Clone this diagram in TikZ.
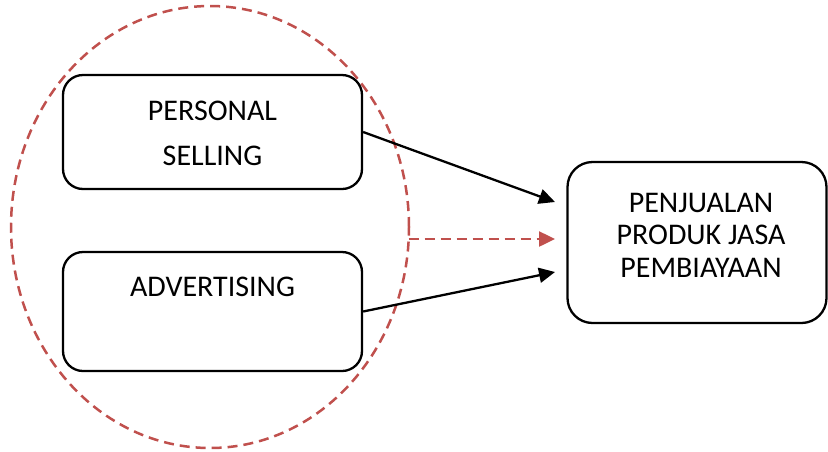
\documentclass[tikz,border=0pt]{standalone}
\usepackage{fontspec}
\setmainfont{Carlito}
\usetikzlibrary{arrows.meta,calc,shapes.geometric}
\definecolor{dred}{RGB}{192,80,77}
\begin{document}
\begin{tikzpicture}[x=1pt,y=-1pt,
  box/.style={draw=black,line width=2.3pt,rounded corners=20pt,inner sep=0pt},
  txt/.style={inner sep=0pt,align=center,font=\fontsize{30}{45}\selectfont},
  txtb/.style={inner sep=0pt,align=center,font=\fontsize{30}{32.5}\selectfont},
  arr/.style={line width=2.3pt,-{Triangle[length=16pt,width=15pt]}},
  darr/.style={line width=2.5pt,dred,dash pattern=on 10pt off 6pt,-{Triangle[length=16pt,width=15pt]}}
]
\useasboundingbox (0,0) rectangle (828,451);
\node[draw=dred,line width=2.5pt,dash pattern=on 10pt off 6pt,ellipse,minimum width=398pt,minimum height=442pt,inner sep=0pt] (grp) at (210,227) {};
\node[box,minimum width=299pt,minimum height=114pt] (ps) at (212.5,132) {};
\node[box,minimum width=299pt,minimum height=119pt] (adv) at (212.5,311.5) {};
\node[box,rounded corners=25pt,minimum width=259pt,minimum height=161pt] (pj) at (697,242.5) {};
\node[txt] (pst) at (212.5,133.5) {PERSONAL\\SELLING};
\node[txt] (advt) at (212.5,287) {ADVERTISING};
\node[txtb] (pjt) at (701,235) {PENJUALAN\\PRODUK JASA\\PEMBIAYAAN};
\coordinate (t1) at (555,202);
\coordinate (t2) at (555,239);
\coordinate (t3) at (555,272);
\coordinate (d0) at (408.5,239);
\draw[arr] (ps.east) -- (t1);
\draw[arr] (adv.east) -- (t3);
\draw[darr] (d0) -- (t2);
\end{tikzpicture}
\end{document}
